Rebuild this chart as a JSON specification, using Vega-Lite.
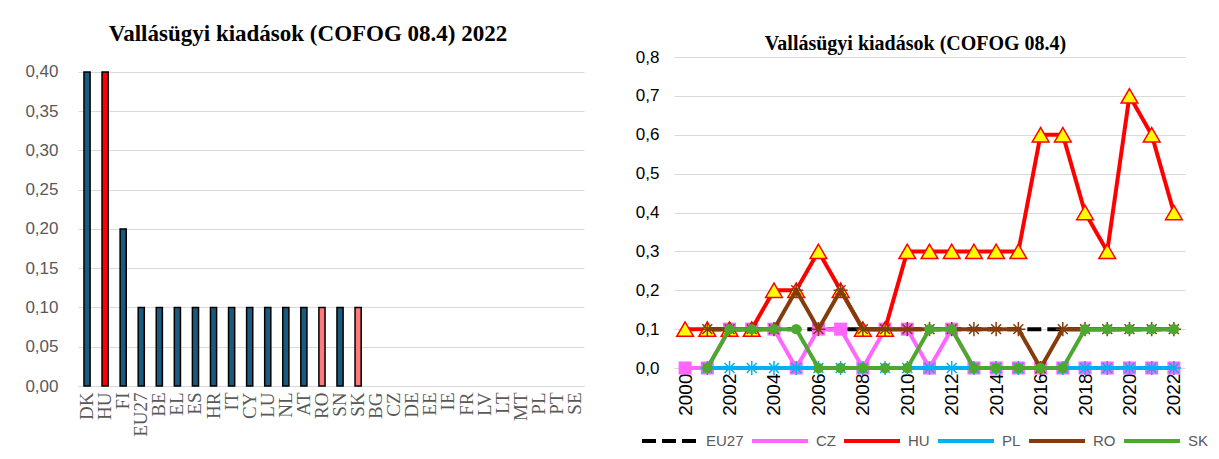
{
  "$schema": "https://vega.github.io/schema/vega-lite/v6.json",
  "padding": {"left": 24, "top": 23, "right": 0, "bottom": 0},
  "spacing": 50,
  "resolve": {"legend": {"color": "independent", "strokeDash": "independent"}},
  "config": {"view": {"stroke": null}, "font": "Liberation Sans"},
  "datasets": {
    "bars": [
      {"c": "DK", "v": 0.4}, {"c": "HU", "v": 0.4}, {"c": "FI", "v": 0.2}, {"c": "EU27", "v": 0.1},
      {"c": "BE", "v": 0.1}, {"c": "EL", "v": 0.1}, {"c": "ES", "v": 0.1}, {"c": "HR", "v": 0.1},
      {"c": "IT", "v": 0.1}, {"c": "CY", "v": 0.1}, {"c": "LU", "v": 0.1}, {"c": "NL", "v": 0.1},
      {"c": "AT", "v": 0.1}, {"c": "RO", "v": 0.1}, {"c": "SN", "v": 0.1}, {"c": "SK", "v": 0.1},
      {"c": "BG", "v": 0}, {"c": "CZ", "v": 0}, {"c": "DE", "v": 0}, {"c": "EE", "v": 0},
      {"c": "IE", "v": 0}, {"c": "FR", "v": 0}, {"c": "LV", "v": 0}, {"c": "LT", "v": 0},
      {"c": "MT", "v": 0}, {"c": "PL", "v": 0}, {"c": "PT", "v": 0}, {"c": "SE", "v": 0}
    ],
    "ts": [
      {"s":"EU27","y":2001,"v":0.1},{"s":"EU27","y":2002,"v":0.1},{"s":"EU27","y":2003,"v":0.1},{"s":"EU27","y":2004,"v":0.1},{"s":"EU27","y":2005,"v":0.1},{"s":"EU27","y":2006,"v":0.1},{"s":"EU27","y":2007,"v":0.1},{"s":"EU27","y":2008,"v":0.1},{"s":"EU27","y":2009,"v":0.1},{"s":"EU27","y":2010,"v":0.1},{"s":"EU27","y":2011,"v":0.1},{"s":"EU27","y":2012,"v":0.1},{"s":"EU27","y":2013,"v":0.1},{"s":"EU27","y":2014,"v":0.1},{"s":"EU27","y":2015,"v":0.1},{"s":"EU27","y":2016,"v":0.1},{"s":"EU27","y":2017,"v":0.1},{"s":"EU27","y":2018,"v":0.1},{"s":"EU27","y":2019,"v":0.1},{"s":"EU27","y":2020,"v":0.1},{"s":"EU27","y":2021,"v":0.1},{"s":"EU27","y":2022,"v":0.1},
      {"s":"CZ","y":2000,"v":0},{"s":"CZ","y":2001,"v":0},{"s":"CZ","y":2002,"v":0.1},{"s":"CZ","y":2003,"v":0.1},{"s":"CZ","y":2004,"v":0.1},{"s":"CZ","y":2005,"v":0},{"s":"CZ","y":2006,"v":0.1},{"s":"CZ","y":2007,"v":0.1},{"s":"CZ","y":2008,"v":0},{"s":"CZ","y":2009,"v":0.1},{"s":"CZ","y":2010,"v":0.1},{"s":"CZ","y":2011,"v":0},{"s":"CZ","y":2012,"v":0.1},{"s":"CZ","y":2013,"v":0},{"s":"CZ","y":2014,"v":0},{"s":"CZ","y":2015,"v":0},{"s":"CZ","y":2016,"v":0},{"s":"CZ","y":2017,"v":0},{"s":"CZ","y":2018,"v":0},{"s":"CZ","y":2019,"v":0},{"s":"CZ","y":2020,"v":0},{"s":"CZ","y":2021,"v":0},{"s":"CZ","y":2022,"v":0},
      {"s":"HU","y":2000,"v":0.1},{"s":"HU","y":2001,"v":0.1},{"s":"HU","y":2002,"v":0.1},{"s":"HU","y":2003,"v":0.1},{"s":"HU","y":2004,"v":0.2},{"s":"HU","y":2005,"v":0.2},{"s":"HU","y":2006,"v":0.3},{"s":"HU","y":2007,"v":0.2},{"s":"HU","y":2008,"v":0.1},{"s":"HU","y":2009,"v":0.1},{"s":"HU","y":2010,"v":0.3},{"s":"HU","y":2011,"v":0.3},{"s":"HU","y":2012,"v":0.3},{"s":"HU","y":2013,"v":0.3},{"s":"HU","y":2014,"v":0.3},{"s":"HU","y":2015,"v":0.3},{"s":"HU","y":2016,"v":0.6},{"s":"HU","y":2017,"v":0.6},{"s":"HU","y":2018,"v":0.4},{"s":"HU","y":2019,"v":0.3},{"s":"HU","y":2020,"v":0.7},{"s":"HU","y":2021,"v":0.6},{"s":"HU","y":2022,"v":0.4},
      {"s":"PL","y":2001,"v":0},{"s":"PL","y":2002,"v":0},{"s":"PL","y":2003,"v":0},{"s":"PL","y":2004,"v":0},{"s":"PL","y":2005,"v":0},{"s":"PL","y":2006,"v":0},{"s":"PL","y":2007,"v":0},{"s":"PL","y":2008,"v":0},{"s":"PL","y":2009,"v":0},{"s":"PL","y":2010,"v":0},{"s":"PL","y":2011,"v":0},{"s":"PL","y":2012,"v":0},{"s":"PL","y":2013,"v":0},{"s":"PL","y":2014,"v":0},{"s":"PL","y":2015,"v":0},{"s":"PL","y":2016,"v":0},{"s":"PL","y":2017,"v":0},{"s":"PL","y":2018,"v":0},{"s":"PL","y":2019,"v":0},{"s":"PL","y":2020,"v":0},{"s":"PL","y":2021,"v":0},{"s":"PL","y":2022,"v":0},
      {"s":"RO","y":2001,"v":0.1},{"s":"RO","y":2002,"v":0.1},{"s":"RO","y":2003,"v":0.1},{"s":"RO","y":2004,"v":0.1},{"s":"RO","y":2005,"v":0.2},{"s":"RO","y":2006,"v":0.1},{"s":"RO","y":2007,"v":0.2},{"s":"RO","y":2008,"v":0.1},{"s":"RO","y":2009,"v":0.1},{"s":"RO","y":2010,"v":0.1},{"s":"RO","y":2011,"v":0.1},{"s":"RO","y":2012,"v":0.1},{"s":"RO","y":2013,"v":0.1},{"s":"RO","y":2014,"v":0.1},{"s":"RO","y":2015,"v":0.1},{"s":"RO","y":2016,"v":0},{"s":"RO","y":2017,"v":0.1},{"s":"RO","y":2018,"v":0.1},{"s":"RO","y":2019,"v":0.1},{"s":"RO","y":2020,"v":0.1},{"s":"RO","y":2021,"v":0.1},{"s":"RO","y":2022,"v":0.1},
      {"s":"SK","y":2001,"v":0},{"s":"SK","y":2002,"v":0.1},{"s":"SK","y":2003,"v":0.1},{"s":"SK","y":2004,"v":0.1},{"s":"SK","y":2005,"v":0.1},{"s":"SK","y":2006,"v":0},{"s":"SK","y":2007,"v":0},{"s":"SK","y":2008,"v":0},{"s":"SK","y":2009,"v":0},{"s":"SK","y":2010,"v":0},{"s":"SK","y":2011,"v":0.1},{"s":"SK","y":2012,"v":0.1},{"s":"SK","y":2013,"v":0},{"s":"SK","y":2014,"v":0},{"s":"SK","y":2015,"v":0},{"s":"SK","y":2016,"v":0},{"s":"SK","y":2017,"v":0},{"s":"SK","y":2018,"v":0.1},{"s":"SK","y":2019,"v":0.1},{"s":"SK","y":2020,"v":0.1},{"s":"SK","y":2021,"v":0.1},{"s":"SK","y":2022,"v":0.1}
    ]
  },
  "hconcat": [
    {
      "width": 506,
      "height": 329,
      "data": {"name": "bars"},
      "title": {"text": "Vallásügyi kiadások (COFOG 08.4) 2022", "font": "Liberation Serif", "fontSize": 23, "fontWeight": "bold", "color": "black", "anchor": "middle", "dx": -23, "offset": 11},
      "mark": {"type": "bar", "strokeWidth": 1.5},
      "encoding": {
        "x": {"field": "c", "type": "nominal", "sort": null, "scale": {"paddingInner": 0.66},
          "axis": {"title": null, "labelAngle": 270, "labelAlign": "right", "labelBaseline": "middle", "labelFont": "Liberation Serif", "labelFontSize": 19, "labelColor": "#595959", "ticks": false, "domainColor": "#D9D9D9", "labelPadding": 6}},
        "y": {"field": "v", "type": "quantitative", "scale": {"domain": [0, 0.4191], "nice": false},
          "axis": {"title": null, "values": [0, 0.05, 0.1, 0.15, 0.2, 0.25, 0.3, 0.35, 0.4], "labelExpr": "replace(format(datum.value, '.2f'), '.', ',')", "labelFontSize": 17, "labelColor": "#595959", "ticks": false, "domain": false, "gridColor": "#D9D9D9", "labelPadding": 20}},
        "color": {"condition": [{"test": "datum.c == 'HU'", "value": "#FF0000"}, {"test": "datum.c == 'RO' || datum.c == 'SK'", "value": "#FF7A7A"}], "value": "#1A5A7E"},
        "stroke": {"condition": {"test": "datum.v > 0", "value": "#000000"}, "value": null}
      }
    },
    {
      "width": 511,
      "height": 311,
      "data": {"name": "ts"},
      "title": {"text": "Vallásügyi kiadások (COFOG 08.4)", "font": "Liberation Serif", "fontSize": 20, "fontWeight": "bold", "color": "black", "anchor": "middle", "dx": -14, "offset": -6},
      "encoding": {
        "x": {"field": "y", "type": "ordinal", "scale": {"type": "point", "padding": 0.5},
          "axis": {"title": null, "values": [2000, 2002, 2004, 2006, 2008, 2010, 2012, 2014, 2016, 2018, 2020, 2022], "labelAngle": 270, "labelAlign": "right", "labelBaseline": "middle", "labelFontSize": 19, "labelColor": "black", "ticks": false, "domain": false, "labelPadding": 5}},
        "y": {"field": "v", "type": "quantitative", "scale": {"domain": [0, 0.8]},
          "axis": {"title": null, "values": [0, 0.1, 0.2, 0.3, 0.4, 0.5, 0.6, 0.7, 0.8], "labelExpr": "replace(format(datum.value, '.1f'), '.', ',')", "labelFontSize": 17, "labelColor": "black", "ticks": false, "domain": false, "gridColor": "#D9D9D9", "labelPadding": 15}}
      },
      "layer": [
        {"transform": [{"filter": "datum.s == 'EU27'"}], "mark": {"type": "line", "strokeWidth": 4},
          "encoding": {
            "color": {"field": "s", "type": "nominal", "scale": {"domain": ["EU27", "CZ", "HU", "PL", "RO", "SK"], "range": ["#000000", "#FF66FF", "#FF0000", "#00B0F0", "#843C0C", "#4EA72E"]},
              "legend": {"title": null, "orient": "none", "legendX": -34, "legendY": 354, "direction": "horizontal", "symbolType": "stroke", "symbolSize": 3136, "symbolStrokeWidth": 4, "labelFontSize": 15, "labelColor": "#595959", "columnPadding": 0, "labelOffset": 6}},
            "strokeDash": {"field": "s", "type": "nominal", "scale": {"domain": ["EU27", "CZ", "HU", "PL", "RO", "SK"], "range": [[14, 6], [1, 0], [1, 0], [1, 0], [1, 0], [1, 0]]}}
          }},
        {"transform": [{"filter": "datum.s == 'CZ'"}], "mark": {"type": "line", "strokeWidth": 4},
          "encoding": {"color": {"field": "s", "type": "nominal"}, "strokeDash": {"field": "s", "type": "nominal"}}},
        {"transform": [{"filter": "datum.s == 'CZ'"}], "mark": {"type": "point", "shape": "square", "filled": true, "size": 170, "color": "#FF66FF", "opacity": 1}},
        {"transform": [{"filter": "datum.s == 'HU'"}], "mark": {"type": "line", "strokeWidth": 4},
          "encoding": {"color": {"field": "s", "type": "nominal"}, "strokeDash": {"field": "s", "type": "nominal"}}},
        {"transform": [{"filter": "datum.s == 'HU'"}], "mark": {"type": "point", "shape": "triangle-up", "filled": true, "size": 280, "fill": "#FFFF00", "stroke": "#FF0000", "strokeWidth": 1.5, "opacity": 1}},
        {"transform": [{"filter": "datum.s == 'PL'"}], "mark": {"type": "line", "strokeWidth": 4},
          "encoding": {"color": {"field": "s", "type": "nominal"}, "strokeDash": {"field": "s", "type": "nominal"}}},
        {"transform": [{"filter": "datum.s == 'PL'"}], "mark": {"type": "point", "shape": "M-1,0L1,0M0,-1L0,1M-0.7,-0.7L0.7,0.7M-0.7,0.7L0.7,-0.7", "filled": false, "size": 200, "stroke": "#00B0F0", "strokeWidth": 1.5, "opacity": 1}},
        {"transform": [{"filter": "datum.s == 'RO'"}], "mark": {"type": "line", "strokeWidth": 4},
          "encoding": {"color": {"field": "s", "type": "nominal"}, "strokeDash": {"field": "s", "type": "nominal"}}},
        {"transform": [{"filter": "datum.s == 'RO'"}], "mark": {"type": "point", "shape": "M-1,0L1,0M0,-1L0,1M-0.7,-0.7L0.7,0.7M-0.7,0.7L0.7,-0.7", "filled": false, "size": 200, "stroke": "#843C0C", "strokeWidth": 1.5, "opacity": 1}},
        {"transform": [{"filter": "datum.s == 'SK'"}], "mark": {"type": "line", "strokeWidth": 4},
          "encoding": {"color": {"field": "s", "type": "nominal"}, "strokeDash": {"field": "s", "type": "nominal"}}},
        {"transform": [{"filter": "datum.s == 'SK'"}], "mark": {"type": "point", "shape": "circle", "filled": true, "size": 110, "color": "#4EA72E", "opacity": 1}}
      ]
    }
  ]
}
